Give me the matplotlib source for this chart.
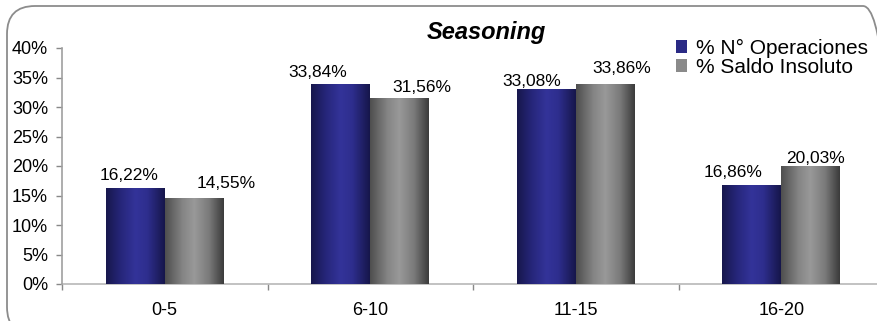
import matplotlib
matplotlib.use("Agg")
import matplotlib.pyplot as plt
import numpy as np
from matplotlib.patches import FancyBboxPatch
from matplotlib.colors import LinearSegmentedColormap

plt.rcParams['font.family'] = ['Liberation Sans', 'DejaVu Sans']

# datos del gráfico
tramos = ["0-5", "6-10", "11-15", "16-20"]
pct_operaciones = [16.22, 33.84, 33.08, 16.86]
pct_saldo = [14.55, 31.56, 33.86, 20.03]
series = ["% N° Operaciones", "% Saldo Insoluto"]
yticks = [0, 5, 10, 15, 20, 25, 30, 35, 40]

# desplazamiento (px) de cada etiqueta respecto al centro/tope de su barra
dx_op, dy_op = [-6, -23, -15, -19], [8, 7, 3, 8]
dx_sa, dy_sa = [32, 22, 16, 5], [10, 6, 11, 3]

# degradados horizontales de las barras (borde oscuro, centro claro)
cm_azul = LinearSegmentedColormap.from_list(
    "azul", [(0, "#17174c"), (0.25, "#26267a"), (0.5, "#333399"),
             (0.7, "#2e2e8e"), (1, "#16164a")])
cm_gris = LinearSegmentedColormap.from_list(
    "gris", [(0, "#4e4e4e"), (0.3, "#858585"), (0.5, "#999999"),
             (0.75, "#7a7a7a"), (1, "#3a3a3a")])

fig = plt.figure(figsize=(8.77, 3.21), dpi=100)
ax = fig.add_axes([62 / 877, 37 / 321, 822 / 877, 236 / 321])

x = np.arange(len(tramos))
ancho = 0.287

b1 = ax.bar(x - ancho / 2, pct_operaciones, ancho, color="#2a2a85", zorder=2)
b2 = ax.bar(x + ancho / 2, pct_saldo, ancho, color="#8a8a8a", zorder=2)

grad = np.linspace(0, 1, 256).reshape(1, -1)
for barras, cmap in [(b1, cm_azul), (b2, cm_gris)]:
    for r in barras:
        x0 = r.get_x()
        x1 = x0 + r.get_width()
        h = r.get_height()
        im = ax.imshow(grad, cmap=cmap, extent=[x0, x1, 0, h],
                       aspect='auto', zorder=3, interpolation='bicubic')
        im.set_clip_path(r)

# etiquetas de valor con coma decimal
px = 72 / 100
for barras, vals, dxs, dys in [(b1, pct_operaciones, dx_op, dy_op),
                               (b2, pct_saldo, dx_sa, dy_sa)]:
    for r, v, dx, dy in zip(barras, vals, dxs, dys):
        ax.annotate(("%.2f%%" % v).replace(".", ","),
                    (r.get_x() + r.get_width() / 2, v),
                    xytext=(dx * px, dy * px), textcoords="offset points",
                    ha="center", va="baseline", fontsize=12.5, zorder=4)

ax.set_xlim(-0.5, len(tramos) - 0.5)
ax.set_ylim(0, 40)
ax.set_yticks(yticks)
ax.set_yticklabels(["%d%%" % t for t in yticks], fontsize=13)
ax.set_xticks(x)
ax.set_xticklabels(tramos, fontsize=13)
ax.set_xticks(np.arange(len(tramos) + 1) - 0.5, minor=True)
ax.tick_params(axis='x', which='major', length=0, pad=13)
ax.tick_params(axis='x', which='minor', length=4, color="#888888", width=1)
ax.tick_params(axis='y', length=4, color="#888888", width=1, pad=6)

for s in ["top", "right"]:
    ax.spines[s].set_visible(False)
ax.spines["left"].set_color("#a0a0a0")
ax.spines["bottom"].set_color("#b8b8b8")
ax.spines["left"].set_linewidth(1.2)
ax.spines["bottom"].set_linewidth(1.2)
ax.spines["left"].set_zorder(5)

fig.text(486 / 877, 1 - 33 / 321, "Seasoning", ha="center", va="center",
         fontsize=17, fontweight="bold", fontstyle="italic")

fig.legend([b1, b2], series, loc="upper left",
           bbox_to_anchor=(676 / 877, 1 - 39 / 321), frameon=False,
           fontsize=15, handlelength=0.55, handleheight=0.55,
           handletextpad=0.4, labelspacing=0.0, borderpad=0,
           borderaxespad=0)

# marco redondeado del área del gráfico (coordenadas en píxeles)
r = 28
marco = FancyBboxPatch((7 + r, -14 + r), 891 - 7 - 2 * r, 315 + 14 - 2 * r,
                       boxstyle="round,pad=%d" % r, transform=None,
                       facecolor="none", edgecolor="#8c8c8c", linewidth=1.3)
fig.patches.append(marco)

fig.savefig("out.png", dpi=100)
